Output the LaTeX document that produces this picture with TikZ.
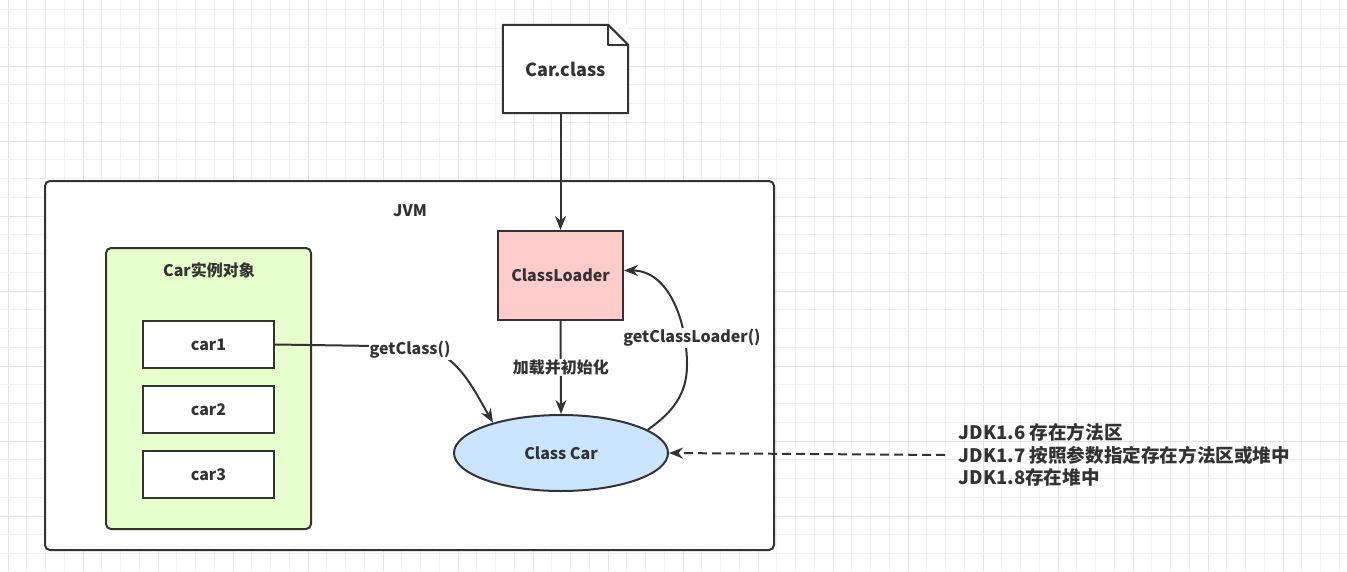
\documentclass[tikz,border=0pt]{standalone}
\usepackage{fontspec}
\setmainfont{Noto Sans CJK SC}
\usetikzlibrary{arrows.meta}
\usetikzlibrary{positioning}
\usetikzlibrary{shapes.geometric}

\definecolor{inkgray}{HTML}{333333}
\definecolor{gridminor}{HTML}{F0F0F0}
\definecolor{gridmajor}{HTML}{E2E2E2}
\definecolor{loaderpink}{HTML}{FFCCCC}
\definecolor{objgreen}{HTML}{E6FFCC}
\definecolor{classblue}{HTML}{CCE5FF}

\tikzset{
  lbl/.style = {text=inkgray, font=\fontsize{16}{19}\selectfont\bfseries},
  boxed/.style = {draw=inkgray, line width=2pt, lbl},
  edgelbl/.style = {lbl, fill=white, inner sep=1pt},
  arr/.style = {draw=inkgray, line width=2pt, -{Stealth[length=14pt,width=11pt]}}
}

\begin{document}
\begin{tikzpicture}[x=1pt, y=1pt]
      \useasboundingbox (0,0) rectangle (1347,-571);

      % grid
      \foreach \k in {0,...,71}{
        \pgfmathsetmacro{\gx}{8+18.75*\k}
        \pgfmathtruncatemacro{\gm}{mod(\k,4)}
        \ifnum\gm=0 \draw[gridmajor, line width=1pt] (\gx,0) -- (\gx,-571);
        \else \draw[gridminor, line width=1pt] (\gx,0) -- (\gx,-571); \fi
      }
      \foreach \k in {0,...,30}{
        \pgfmathsetmacro{\gy}{9.75+18.75*\k}
        \pgfmathtruncatemacro{\gm}{mod(\k,4)}
        \ifnum\gm=3 \draw[gridmajor, line width=1pt] (0,-\gy) -- (1347,-\gy);
        \else \draw[gridminor, line width=1pt] (0,-\gy) -- (1347,-\gy); \fi
      }

      % JVM
      \node[boxed, fill=white, rounded corners=5pt, minimum width=729, minimum height=369] (jvm) at (409.5,-365.5) {};
      \node[lbl] (jvmtitle) at (410,-211) {JVM};

      % instances
      \node[boxed, fill=objgreen, rounded corners=5pt, minimum width=205, minimum height=281] (objs) at (208.5,-388.5) {};
      \node[lbl] (objtitle) at (209,-270) {Car实例对象};
      \node[boxed, fill=white, minimum width=131, minimum height=47] (car1) at (208.5,-344.5) {car1};
      \node[boxed, fill=white, minimum width=131, minimum height=47] (car2) at (208.5,-409.5) {car2};
      \node[boxed, fill=white, minimum width=131, minimum height=47] (car3) at (208.5,-474.5) {car3};

      % class file
      \node[lbl, font=\fontsize{18}{21}\selectfont\bfseries, fill=white, minimum width=125, minimum height=88] (cls) at (565.5,-69) {Car.class};
      \draw[inkgray, line width=2pt, line join=round] (cls.south west) -- (cls.north west) -- ([xshift=-20]cls.north east)
        -- ([yshift=-20]cls.north east) -- (cls.south east) -- cycle;
      \draw[inkgray, line width=2pt, line join=round] ([xshift=-20]cls.north east) -- ([xshift=-20,yshift=-20]cls.north east)
        -- ([yshift=-20]cls.north east);

      \node[boxed, fill=loaderpink, minimum width=125, minimum height=89] (cl) at (560.5,-275.5) {ClassLoader};
      \node[boxed, ellipse, fill=classblue, minimum width=214, minimum height=76] (cc) at (561,-453) {Class Car};

      \draw[arr] (cl.north |- cls.south) -- (cl.north);
      \draw[arr] (cl.south) -- node[edgelbl] {加载并初始化} (cc.north);

      \draw[arr] (car1.east) -- (410,-346.5) to[out=0, in=120] (cc.156);
      \node[edgelbl] (getc) at (410,-350) {getClass()};

      \draw[arr] (cc.15) to[out=35, in=-90] (687,-365) to[out=90, in=0] ([yshift=5]cl.east);
      \node[edgelbl] (getcl) at (692,-338) {getClassLoader()};

      % storage note
      \node[lbl, font=\fontsize{18.6}{22.5}\selectfont\bfseries, align=left, anchor=west] (note) at (955,-455)
        {JDK1.6 存在方法区\\JDK1.7 按照参数指定存在方法区或堆中\\JDK1.8存在堆中};
      \coordinate (noteend) at (945,-455);
      \draw[arr, dash pattern=on 9pt off 5pt] (noteend) -- (cc.east);
\end{tikzpicture}
\end{document}
